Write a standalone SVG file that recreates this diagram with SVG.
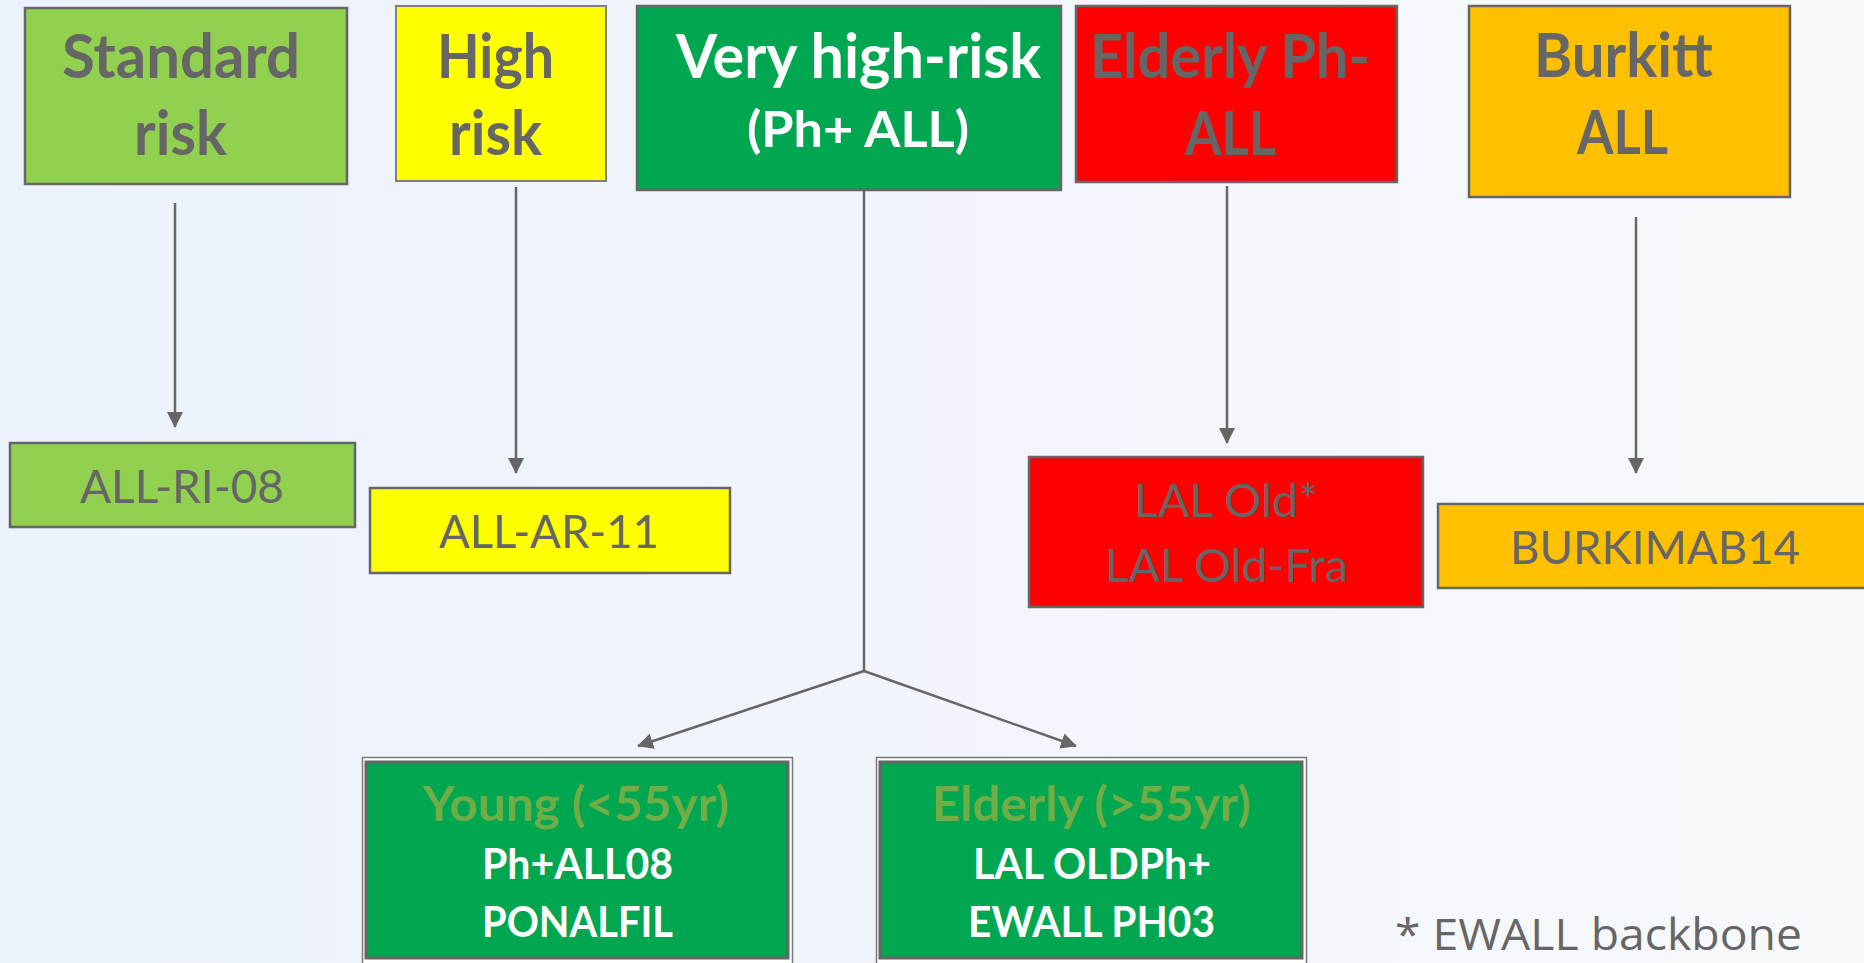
<svg xmlns="http://www.w3.org/2000/svg" width="1864" height="963" viewBox="0 0 1864 963">
<defs>
<linearGradient id="bg" x1="0" y1="0" x2="1" y2="0">
<stop offset="0" stop-color="#ECF2FB"/>
<stop offset="1" stop-color="#F7F9FC"/>
</linearGradient>
<marker id="arr" markerWidth="16" markerHeight="16" viewBox="0 0 16 16" refX="15" refY="8" orient="auto" markerUnits="userSpaceOnUse">
<path d="M0,0 L16,8 L0,16 Z" fill="#666"/>
</marker>
<style>
.box{stroke:#666;stroke-width:2.5}
.hd{font-family:Lato,"Open Sans",sans-serif;font-weight:bold;font-size:62px;fill:#666}
.hw{fill:#fff}
.sub{font-family:Lato,"Open Sans",sans-serif;font-size:47px;fill:#666}
.b3{font-family:Lato,"Open Sans",sans-serif;font-weight:bold;fill:#fff;font-size:42px}
.g3{font-family:Lato,"Open Sans",sans-serif;font-weight:bold;fill:#70AD47;font-size:48px}
.conn{stroke:#666;stroke-width:2.5;fill:none}
.note{font-family:"Open Sans",sans-serif;font-size:44px;fill:#666}
</style>
</defs>
<rect width="1864" height="963" fill="url(#bg)"/>

<g id="standard">
<rect class="box" x="25" y="8" width="322" height="176" fill="#92D050"/>
<text class="hd" x="62" y="78" textLength="238" lengthAdjust="spacingAndGlyphs">Standard</text>
<text class="hd" x="134" y="155" textLength="93" lengthAdjust="spacingAndGlyphs">risk</text>
</g>
<g id="high">
<rect x="396" y="6" width="210" height="175" fill="#FFFF00" stroke="#7f7f7f" stroke-width="2"/>
<text class="hd" x="437" y="78" textLength="117" lengthAdjust="spacingAndGlyphs">High</text>
<text class="hd" x="449" y="155" textLength="93" lengthAdjust="spacingAndGlyphs">risk</text>
</g>
<g id="veryhigh">
<rect class="box" x="637" y="6" width="424" height="184" fill="#00A650" stroke="#777"/>
<text class="hd hw" x="676" y="78" textLength="365" lengthAdjust="spacingAndGlyphs">Very high-risk</text>
<text class="hd hw" x="747" y="147" textLength="222" lengthAdjust="spacingAndGlyphs" style="font-size:50px">(Ph+ ALL)</text>
</g>
<g id="elderlyneg">
<rect class="box" x="1076" y="6" width="321" height="176" fill="#FF0000"/>
<text class="hd" x="1090" y="78" textLength="280" lengthAdjust="spacingAndGlyphs">Elderly Ph-</text>
<text class="hd" x="1185" y="155" textLength="91" lengthAdjust="spacingAndGlyphs">ALL</text>
</g>
<g id="burkitt">
<rect class="box" x="1469" y="6" width="321" height="191" fill="#FFC000" stroke="#777"/>
<text class="hd" x="1534" y="77" textLength="179" lengthAdjust="spacingAndGlyphs">Burkitt</text>
<text class="hd" x="1577" y="154" textLength="91" lengthAdjust="spacingAndGlyphs">ALL</text>
</g>

<g id="allri08">
<rect class="box" x="10" y="443" width="345" height="84" fill="#92D050"/>
<text class="sub" x="80" y="503" textLength="204" lengthAdjust="spacingAndGlyphs">ALL-RI-08</text>
</g>
<g id="allar11">
<rect class="box" x="370" y="488" width="360" height="85" fill="#FFFF00"/>
<text class="sub" x="439" y="548" textLength="220" lengthAdjust="spacingAndGlyphs">ALL-AR-11</text>
</g>
<g id="lalold">
<rect class="box" x="1029" y="457" width="394" height="150" fill="#FF0000"/>
<text class="sub" x="1134" y="517" textLength="184" lengthAdjust="spacingAndGlyphs">LAL Old*</text>
<text class="sub" x="1105" y="582" textLength="243" lengthAdjust="spacingAndGlyphs">LAL Old-Fra</text>
</g>
<g id="burkimab">
<rect class="box" x="1438" y="504" width="430" height="84" fill="#FFC000"/>
<text class="sub" x="1510" y="564" textLength="290" lengthAdjust="spacingAndGlyphs">BURKIMAB14</text>
</g>

<g id="young">
<rect x="362.5" y="757.5" width="430" height="210" fill="#fff" stroke="#777" stroke-width="1.5"/>
<rect x="366" y="762" width="422" height="196" fill="#00A650" stroke="#666" stroke-width="3"/>
<text class="g3" x="423" y="821" textLength="306" lengthAdjust="spacingAndGlyphs">Young (&lt;55yr)</text>
<text class="b3" x="482" y="879" textLength="191" lengthAdjust="spacingAndGlyphs">Ph+ALL08</text>
<text class="b3" x="482" y="937" textLength="191" lengthAdjust="spacingAndGlyphs">PONALFIL</text>
</g>
<g id="elderlypos">
<rect x="876.5" y="757.5" width="430" height="210" fill="#fff" stroke="#777" stroke-width="1.5"/>
<rect x="880" y="762" width="422" height="196" fill="#00A650" stroke="#666" stroke-width="3"/>
<text class="g3" x="932" y="821" textLength="319" lengthAdjust="spacingAndGlyphs">Elderly (&gt;55yr)</text>
<text class="b3" x="973" y="879" textLength="238" lengthAdjust="spacingAndGlyphs">LAL OLDPh+</text>
<text class="b3" x="968" y="937" textLength="247" lengthAdjust="spacingAndGlyphs">EWALL PH03</text>
</g>

<g id="connectors">
<line class="conn" x1="175" y1="203" x2="175" y2="427" marker-end="url(#arr)"/>
<line class="conn" x1="516" y1="187" x2="516" y2="473" marker-end="url(#arr)"/>
<line class="conn" x1="1227" y1="186" x2="1227" y2="443" marker-end="url(#arr)"/>
<line class="conn" x1="1636" y1="217" x2="1636" y2="473" marker-end="url(#arr)"/>
<line class="conn" x1="864" y1="190" x2="864" y2="671"/>
<line class="conn" x1="864" y1="671" x2="638" y2="746" marker-end="url(#arr)"/>
<line class="conn" x1="864" y1="671" x2="1076" y2="746" marker-end="url(#arr)"/>
</g>

<text class="note" x="1395" y="950" textLength="407" lengthAdjust="spacingAndGlyphs">* EWALL backbone</text>
</svg>
